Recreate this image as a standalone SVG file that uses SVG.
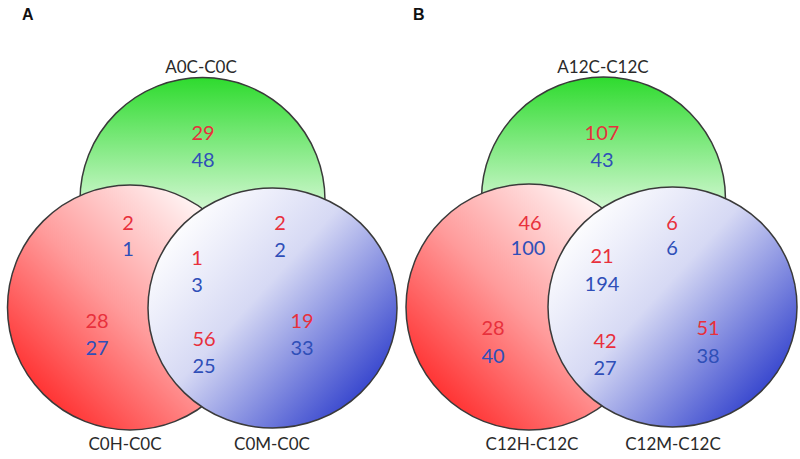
<svg xmlns="http://www.w3.org/2000/svg" width="800" height="459" viewBox="0 0 800 459">
<defs>
<linearGradient id="gG" x1="0" y1="0" x2="0" y2="1">
<stop offset="0" stop-color="#2edb2e"/>
<stop offset="0.55" stop-color="#d4f8d4"/>
<stop offset="1" stop-color="#ffffff"/>
</linearGradient>
<linearGradient id="gR" x1="0.1" y1="0.9" x2="0.85" y2="0.15">
<stop offset="0" stop-color="#ff2626"/>
<stop offset="0.5" stop-color="#ff9a9a"/>
<stop offset="1" stop-color="#fff4f4"/>
</linearGradient>
<linearGradient id="gB" x1="0.1" y1="0.15" x2="0.95" y2="0.9">
<stop offset="0" stop-color="#ffffff"/>
<stop offset="0.4" stop-color="#d6d9f4"/>
<stop offset="1" stop-color="#1f30c8"/>
</linearGradient>
</defs>
<style>
.c{stroke:#3a3a3a;stroke-width:1.5}
.g{fill:url(#gG)}
.r{fill:url(#gR)}
.b{fill:url(#gB)}
.lbl{font-family:Lato,"Liberation Sans",sans-serif;font-size:17px;fill:#2a2a2a;text-anchor:middle}
.n{font-family:Lato,"Liberation Sans",sans-serif;font-size:20px;text-anchor:middle}
.nr{fill:#e8303c}
.nb{fill:#2f4fb8}
.pl{font-family:"Liberation Sans",Arial,sans-serif;font-size:16px;font-weight:bold;fill:#111}
</style>
<rect width="800" height="459" fill="#ffffff"/>
<text class="pl" x="22" y="20">A</text>
<text class="pl" x="413" y="20">B</text>

<!-- Panel A -->
<g id="A-green">
<circle class="c g" cx="202.5" cy="200" r="122.5"/>
<text class="lbl" x="201" y="73">A0C-C0C</text>
<text class="n nr" x="203" y="140">29</text>
<text class="n nb" x="203" y="167">48</text>
</g>
<g id="A-red">
<circle class="c r" cx="130" cy="307.5" r="122.5"/>
<text class="lbl" x="125" y="450">C0H-C0C</text>
</g>
<g id="A-blue">
<ellipse class="c b" cx="272.5" cy="308" rx="124.5" ry="120"/>
<text class="lbl" x="272" y="450">C0M-C0C</text>
</g>
<g id="A-counts">
<text class="n nr" x="128" y="230">2</text>
<text class="n nb" x="128" y="256">1</text>
<text class="n nr" x="280" y="230">2</text>
<text class="n nb" x="280" y="257">2</text>
<text class="n nr" x="197" y="265">1</text>
<text class="n nb" x="197" y="292">3</text>
<text class="n nr" x="97" y="328">28</text>
<text class="n nb" x="97" y="355">27</text>
<text class="n nr" x="204" y="346">56</text>
<text class="n nb" x="204" y="373">25</text>
<text class="n nr" x="302" y="328">19</text>
<text class="n nb" x="302" y="355">33</text>
</g>

<!-- Panel B -->
<g id="B-green">
<circle class="c g" cx="603.5" cy="199" r="122"/>
<text class="lbl" x="603" y="73">A12C-C12C</text>
<text class="n nr" x="602" y="140">107</text>
<text class="n nb" x="602" y="167">43</text>
</g>
<g id="B-red">
<circle class="c r" cx="529" cy="307" r="123"/>
<text class="lbl" x="532" y="450">C12H-C12C</text>
</g>
<g id="B-blue">
<ellipse class="c b" cx="672.5" cy="307" rx="124.5" ry="120"/>
<text class="lbl" x="673" y="450">C12M-C12C</text>
</g>
<g id="B-counts">
<text class="n nr" x="530" y="230">46</text>
<text class="n nb" x="528" y="255">100</text>
<text class="n nr" x="672" y="230">6</text>
<text class="n nb" x="672" y="255">6</text>
<text class="n nr" x="602" y="263">21</text>
<text class="n nb" x="602" y="291">194</text>
<text class="n nr" x="493" y="335">28</text>
<text class="n nb" x="493" y="363">40</text>
<text class="n nr" x="605" y="348">42</text>
<text class="n nb" x="605" y="375">27</text>
<text class="n nr" x="708" y="335">51</text>
<text class="n nb" x="708" y="363">38</text>
</g>
<g id="connectors"/>
</svg>
